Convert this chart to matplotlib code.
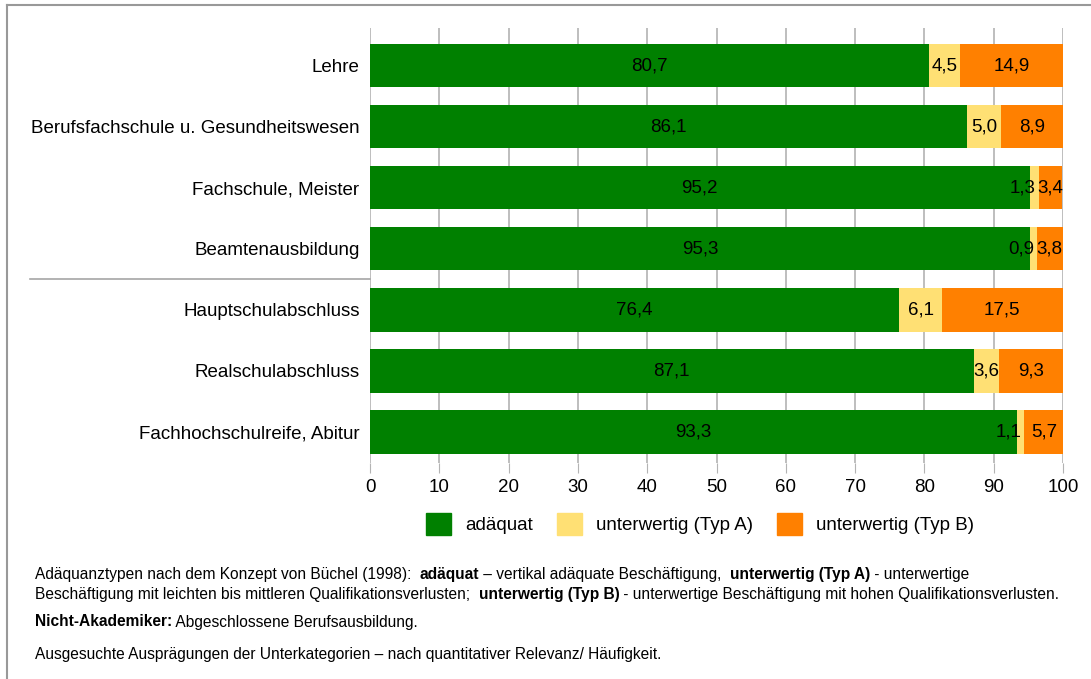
import numpy as np
import matplotlib
matplotlib.use('Agg')
import matplotlib.pyplot as plt
import matplotlib.transforms as mtransforms
from matplotlib.patches import Patch
from matplotlib.lines import Line2D

plt.rcParams['font.family'] = ['Liberation Sans', 'DejaVu Sans']

categories = ['Lehre', 'Berufsfachschule u. Gesundheitswesen', 'Fachschule, Meister',
              'Beamtenausbildung', 'Hauptschulabschluss', 'Realschulabschluss',
              'Fachhochschulreife, Abitur']
adaequat = [80.7, 86.1, 95.2, 95.3, 76.4, 87.1, 93.3]
typ_a = [4.5, 5.0, 1.3, 0.9, 6.1, 3.6, 1.1]
typ_b = [14.9, 8.9, 3.4, 3.8, 17.5, 9.3, 5.7]
series_names = ['adäquat', 'unterwertig (Typ A)', 'unterwertig (Typ B)']
colors = ['#008000', '#ffe074', '#ff8000']
xticks = np.arange(0, 101, 10)

W, H = 1091, 679
FS = 13.5
fig = plt.figure(figsize=(W/100, H/100), dpi=100)
ax = fig.add_axes([370/W, 1-462.5/H, 693/W, (462.5-28)/H])

y = np.arange(len(categories))
left = np.zeros(len(categories))
for vals, col, name in zip([adaequat, typ_a, typ_b], colors, series_names):
    vals = np.array(vals)
    ax.barh(y, vals, left=left, height=0.71, color=col, label=name, zorder=3)
    for yi, l, v in zip(y, left, vals):
        lab = ('%.1f' % v).replace('.', ',')
        if v < 2:
            # too narrow: label sits left of the segment end
            ax.text(l+v-0.4, yi, lab, ha='right', va='center', fontsize=FS, zorder=4)
        else:
            ax.text(l+v/2, yi, lab, ha='center', va='center', fontsize=FS, zorder=4)
    left = left + vals

ax.set_xlim(0, 100)
ax.set_ylim(len(categories)-0.5, -0.5-7/61.1)
ax.set_yticks(y)
ax.set_yticklabels(categories, fontsize=FS)
ax.set_xticks(xticks)
ax.set_xticklabels([str(t) for t in xticks], fontsize=FS)
ax.tick_params(axis='y', length=0, pad=7.5)
ax.tick_params(axis='x', length=7, color='#b3b3b3', pad=5)
ax.grid(axis='x', color='#b3b3b3', linewidth=1.2, zorder=0)
for s in ax.spines.values():
    s.set_visible(False)

# separator between the two groups
trans = mtransforms.blended_transform_factory(ax.transAxes, ax.transData)
ax.add_line(Line2D([(30-370)/693, 0], [3.5, 3.5], transform=trans, color='#a6a6a6',
                   linewidth=1.2, clip_on=False))

handles = [Patch(facecolor=c, edgecolor=c) for c in colors]
fig.legend(handles, series_names, loc='center', bbox_to_anchor=(700/W, 1-524/H), ncol=3,
           frameon=False, fontsize=FS, handlelength=1.35, handleheight=1.35,
           columnspacing=1.25, handletextpad=0.75)

# outer frame
fig.add_artist(Line2D([7/W, 1.01], [1-5/H, 1-5/H], transform=fig.transFigure, color='#999999', lw=1.5))
fig.add_artist(Line2D([7/W, 7/W], [-0.01, 1-5/H], transform=fig.transFigure, color='#999999', lw=1.5))

# footnotes with mixed bold/normal runs
footnotes = [
    [('Adäquanztypen nach dem Konzept von Büchel (1998):  ', 'normal'), ('adäquat', 'bold'),
     (' – vertikal adäquate Beschäftigung,  ', 'normal'), ('unterwertig (Typ A)', 'bold'),
     (' - unterwertige', 'normal')],
    [('Beschäftigung mit leichten bis mittleren Qualifikationsverlusten;  ', 'normal'),
     ('unterwertig (Typ B)', 'bold'),
     (' - unterwertige Beschäftigung mit hohen Qualifikationsverlusten.', 'normal')],
    [('Nicht-Akademiker:', 'bold'), (' Abgeschlossene Berufsausbildung.', 'normal')],
    [('Ausgesuchte Ausprägungen der Unterkategorien – nach quantitativer Relevanz/ Häufigkeit.', 'normal')],
]
line_y = [575, 594, 622, 655]

fig.canvas.draw()
renderer = fig.canvas.get_renderer()
for runs, ly in zip(footnotes, line_y):
    xpix = 35
    for txt, wt in runs:
        t = fig.text(xpix/W, 1-ly/H, txt, fontsize=11.2, fontweight=wt, va='center', ha='left')
        bb = t.get_window_extent(renderer)
        xpix += bb.width

fig.savefig('out.png', dpi=100)
